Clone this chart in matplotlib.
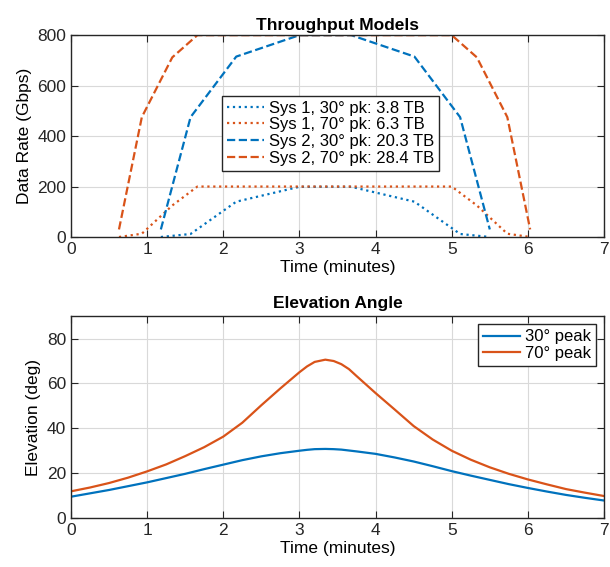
import matplotlib
matplotlib.use("Agg")
import matplotlib.pyplot as plt

plt.rcParams["font.family"] = ["Liberation Sans", "DejaVu Sans"]
plt.rcParams["font.size"] = 12.5

BLUE = "#0072BD"
ORANGE = "#D95319"

# --- throughput models (Gbps vs minutes) ---
t_30 = [1.18, 1.57, 2.17, 3.0, 3.68, 4.51, 5.11, 5.5]
t_70 = [0.63, 0.93, 1.33, 1.66, 5.0, 5.33, 5.73, 6.03]
sys1_30 = [0, 12, 140, 199, 199, 140, 12, 0]
sys1_70 = [0, 13, 125, 200, 200, 125, 13, 0]
sys2_30 = [30, 475, 715, 800, 800, 715, 475, 30]
sys2_70 = [30, 475, 712, 800, 800, 712, 475, 30]
tp_labels = ["Sys 1, 30\u00b0 pk: 3.8 TB", "Sys 1, 70\u00b0 pk: 6.3 TB",
             "Sys 2, 30\u00b0 pk: 20.3 TB", "Sys 2, 70\u00b0 pk: 28.4 TB"]

# --- elevation angle (deg vs minutes) ---
t_el = [0, 0.25, 0.5, 0.75, 1.0, 1.25, 1.5, 1.75, 2.0, 2.25, 2.5, 2.75, 3.0,
        3.1, 3.2, 3.34, 3.45, 3.55, 3.65, 3.75, 4.0, 4.25, 4.5, 4.75, 5.0,
        5.25, 5.5, 5.75, 6.0, 6.25, 6.5, 6.75, 7.0]
el_30 = [9.5, 11.0, 12.5, 14.2, 15.9, 17.8, 19.7, 21.8, 23.8, 25.8, 27.5, 28.9, 30.0,
         30.4, 30.7, 30.8, 30.7, 30.5, 30.1, 29.7, 28.6, 27.0, 25.2, 23.1, 20.9,
         18.9, 17.0, 15.1, 13.4, 11.8, 10.3, 9.0, 7.8]
el_70 = [11.9, 13.6, 15.6, 18.0, 20.8, 23.9, 27.6, 31.6, 36.3, 42.5, 50.3, 57.8, 65.0,
         67.6, 69.6, 70.6, 70.0, 68.6, 66.4, 63.3, 55.7, 48.4, 41.0, 35.0, 30.0,
         26.0, 22.6, 19.7, 17.2, 15.0, 12.9, 11.3, 9.8]


def style(ax):
    ax.grid(True, color="#d9d9d9", lw=0.8)
    ax.set_axisbelow(True)
    for s in ax.spines.values():
        s.set_color("#262626")
        s.set_linewidth(1.0)
    ax.tick_params(direction="in", top=True, right=True, length=5,
                   colors="#262626", labelsize=12.5, labelcolor="#262626")
    ax.set_xlim(0, 7)
    ax.set_xticks(range(8))


fig = plt.figure(figsize=(6.1, 5.67), dpi=100)
ax1 = fig.add_axes([0.1164, 0.582, 0.8738, 0.356])
ax2 = fig.add_axes([0.1164, 0.0864, 0.8738, 0.356])

lw = 1.6
ax1.plot(t_30, sys1_30, ls=":", color=BLUE, lw=lw, label=tp_labels[0])
ax1.plot(t_70, sys1_70, ls=":", color=ORANGE, lw=lw, label=tp_labels[1])
ax1.plot(t_30, sys2_30, ls="--", color=BLUE, lw=lw, label=tp_labels[2])
ax1.plot(t_70, sys2_70, ls="--", color=ORANGE, lw=lw, label=tp_labels[3])
style(ax1)
ax1.set_ylim(0, 800)
ax1.set_yticks(range(0, 801, 200))
ax1.set_title("Throughput Models", fontweight="bold", fontsize=12.5, pad=4)
ax1.set_xlabel("Time (minutes)", labelpad=2)
ax1.set_ylabel("Data Rate (Gbps)")
leg = ax1.legend(loc="center", bbox_to_anchor=(0.487, 0.515), fontsize=12,
                 frameon=True, fancybox=False, framealpha=1, edgecolor="#262626",
                 handlelength=2.2, handletextpad=0.3, labelspacing=0.1,
                 borderpad=0.3, borderaxespad=0)
leg.get_frame().set_linewidth(1.0)

ax2.plot(t_el, el_30, color=BLUE, lw=lw, label="30\u00b0 peak")
ax2.plot(t_el, el_70, color=ORANGE, lw=lw, label="70\u00b0 peak")
style(ax2)
ax2.set_ylim(0, 90)
ax2.set_yticks(range(0, 81, 20))
ax2.set_title("Elevation Angle", fontweight="bold", fontsize=12.5, pad=6)
ax2.set_xlabel("Time (minutes)", labelpad=2)
ax2.set_ylabel("Elevation (deg)")
leg2 = ax2.legend(loc="upper right", fontsize=12, frameon=True, fancybox=False,
                  framealpha=1, edgecolor="#262626", handlelength=2.2,
                  handletextpad=0.3, labelspacing=0.1, borderpad=0.3,
                  borderaxespad=0.5)
leg2.get_frame().set_linewidth(1.0)

fig.savefig("out.png", dpi=100)
